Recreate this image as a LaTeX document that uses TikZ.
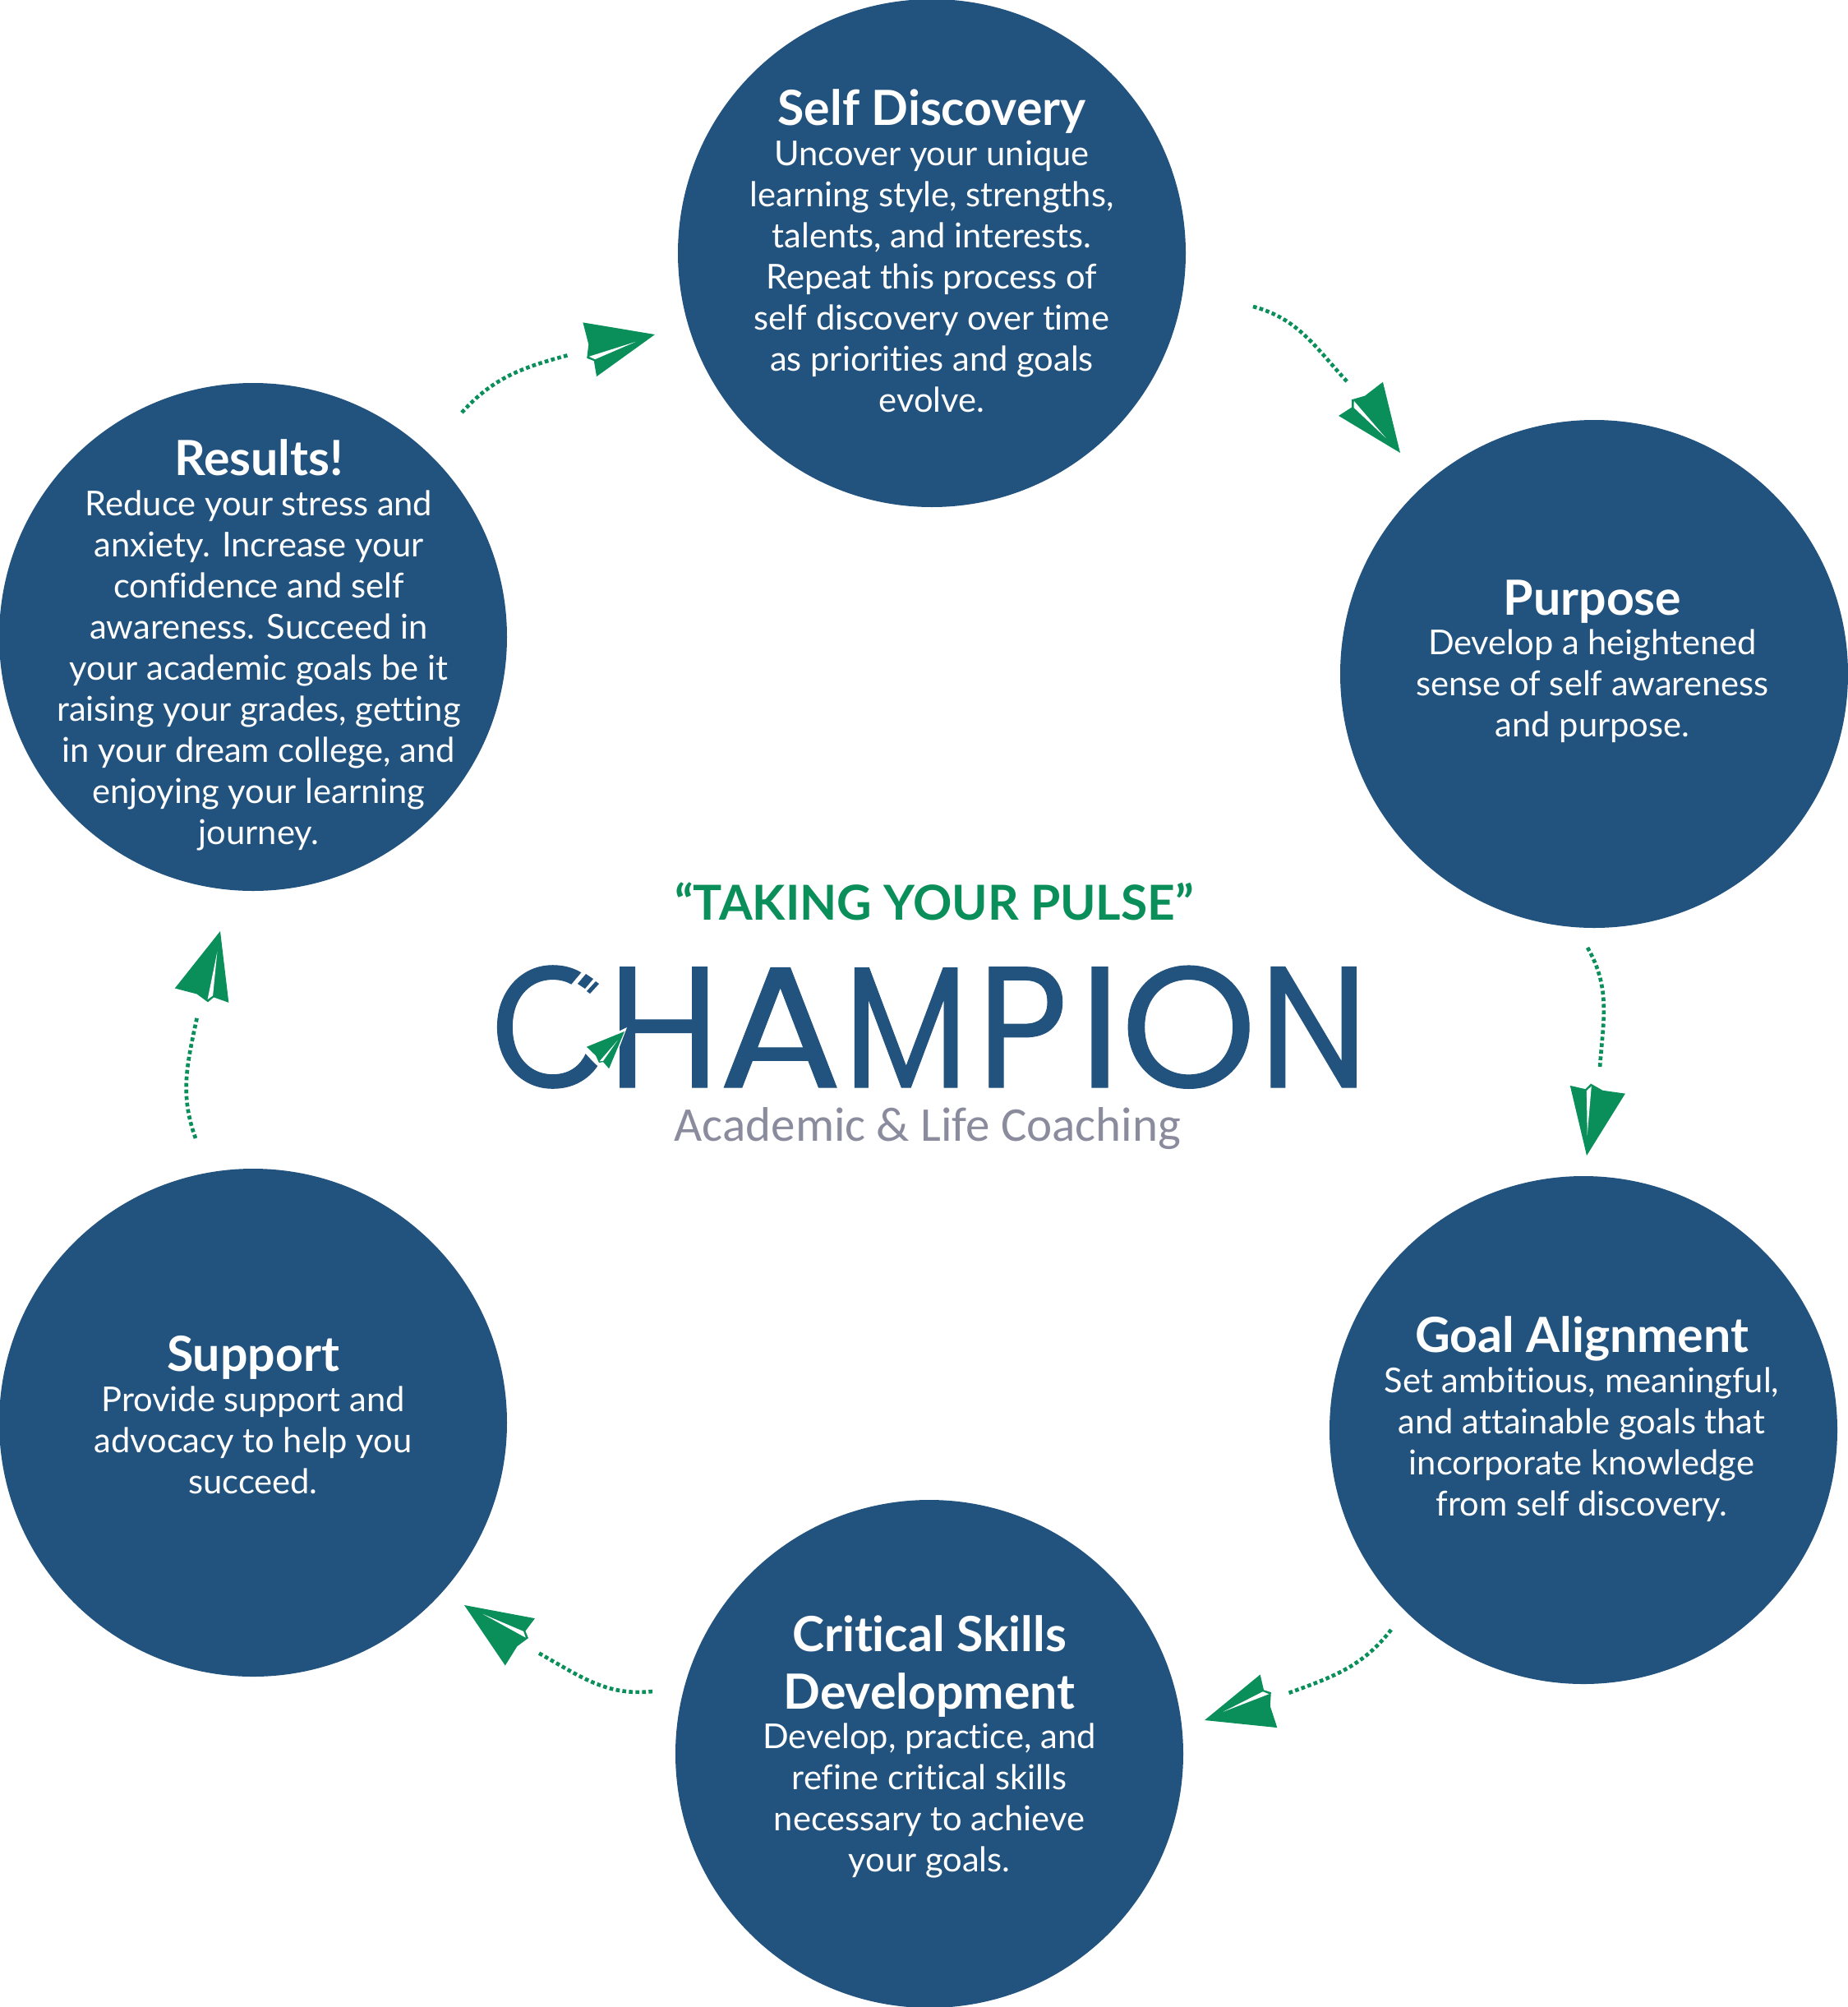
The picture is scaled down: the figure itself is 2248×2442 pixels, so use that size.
\documentclass[tikz,border=0pt]{standalone}
\usepackage{fontspec}
\usepackage{graphicx}
\setmainfont{Lato}[Ligatures=NoCommon]
\newfontfamily\logofont{Poppins}[FakeBold=0.5]
\newfontfamily\handfont{Carlito}
\newcommand{\logoletter}[3]{\makebox[0pt]{\scalebox{#1}[1]{#2}}\kern#3pt}
\definecolor{champblue}{HTML}{22537F}
\definecolor{champgreen}{HTML}{0B8F5A}
\definecolor{champgray}{HTML}{8A8C9E}
\tikzset{
	stage/.style={circle, fill=champblue, inner sep=0pt, minimum size=185.4pt},
	stagetitle/.style={anchor=north, inner sep=0pt, align=center, text=white,
		font=\fontsize{17.7}{21}\bfseries\selectfont, execute at begin node=\strut},
	stagebody/.style={anchor=north, inner sep=0pt, align=center, text=white,
		font=\fontsize{12.5}{15}\selectfont, execute at begin node=\strut},
	flightpath/.style={champgreen, line width=1.4pt, dash pattern=on 1.4pt off 1pt},
	paperplane/.pic={
		\fill[champgreen] (0,0) -- (-81.8,-34.5) -- (-81.3,-6.9) -- (-87.2,8.8) -- (-79.6,14.1) -- (-80.9,33.3) -- cycle;
		\fill[white] (-24.8,3.2) -- (-84.2,7.5) -- (-77.9,12.5) -- cycle;
	}
}
\begin{document}
\begin{tikzpicture}[x=0.3pt, y=-0.3pt]
	\useasboundingbox (0,0) rectangle (2248,2442);

	% circles
	\node[stage] (self) at (1134,308) {};
	\node[stage] (purpose) at (1940,820) {};
	\node[stage] (goal) at (1927,1740) {};
	\node[stage] (skills) at (1131,2134) {};
	\node[stage] (support) at (308,1731) {};
	\node[stage] (results) at (308,775) {};

	% circle texts
	\node[stagetitle] (selftitle) at (1134,103) {Self Discovery};
	\node[stagebody] (selfbody) at (1134,170) {Uncover your unique\\learning style, strengths,\\talents, and interests.\\Repeat this process of\\self discovery over time\\as priorities and goals\\evolve.};
	\node[stagetitle] (purposetitle) at (1938,699) {Purpose};
	\node[stagebody] (purposebody) at (1938,765) {Develop a heightened\\sense of self awareness\\and purpose.};
	\node[stagetitle] (goaltitle) at (1925,1596) {Goal Alignment};
	\node[stagebody] (goalbody) at (1925,1663) {Set ambitious, meaningful,\\and attainable goals that\\incorporate knowledge\\from self discovery.};
	\node[stagetitle] (skillstitle) at (1131,1965) {Critical Skills\\Development};
	\node[stagebody] (skillsbody) at (1131,2096) {Develop, practice, and\\refine critical skills\\necessary to achieve\\your goals.};
	\node[stagetitle] (supporttitle) at (308,1619) {Support};
	\node[stagebody] (supportbody) at (308,1686) {Provide support and\\advocacy to help you\\succeed.};
	\node[stagetitle] (resultstitle) at (315,529) {Results!};
	\node[stagebody] (resultsbody) at (315,596) {Reduce your stress and\\anxiety. Increase your\\confidence and self\\awareness. Succeed in\\your academic goals be it\\raising your grades, getting\\in your dream college, and\\enjoying your learning\\journey.};

	% center logo
	\node[anchor=base, inner sep=0pt, text=champgreen, font=\fontsize{17.6}{20}\bfseries\selectfont] (pulse) at (1137,1119) {“TAKING YOUR PULSE”};
	\node[anchor=base west, inner sep=0pt, text=champblue, font=\fontsize{63}{63}\logofont\selectfont] (champion) at (671,1323) {\logoletter{.92}{C}{40.8}\logoletter{.94}{H}{42.6}\logoletter{1.07}{A}{45.9}\logoletter{.84}{M}{42.5}\logoletter{.91}{P}{28.3}\logoletter{1}{I}{32.4}\logoletter{1}{O}{45.6}\logoletter{.9}{N}{0}};
	\node[anchor=base, inner sep=0pt, text=champgray, font=\fontsize{17.7}{20}\handfont\selectfont] (coaching) at (1129,1388) {Academic \& Life Coaching};

	% details of the C
	\fill[white] (722,1166) -- (745,1166) -- (745,1240) -- (660,1240) -- cycle;
	\fill[champblue] (713,1185) -- (722,1191) -- (712,1203) -- (703,1197) -- cycle;
	\fill[champblue] (725,1194) -- (729,1197) -- (718,1209) -- (714,1206) -- cycle;
	\fill[white] (763,1250) -- (708,1277) -- (722,1292) -- (737,1306) -- (744,1300) -- cycle;
	\pic[rotate=45, scale=0.56] at (760,1255) {paperplane};

	% paths and planes
	\coordinate (resultsout) at (562,502);
	\coordinate (selfin) at (692,432);
	\coordinate (selfout) at (1525,373);
	\coordinate (purposein) at (1640,465);
	\coordinate (purposeout) at (1932,1153);
	\coordinate (goalin) at (1947,1299);
	\coordinate (goalout) at (1693,1983);
	\coordinate (skillsin) at (1568,2060);
	\coordinate (skillsout) at (794,2058);
	\coordinate (supportin) at (655,2011);
	\coordinate (supportout) at (238,1385);
	\coordinate (resultsin) at (240,1237);
	\path (resultsout) edge[flightpath, out=48, in=195] (selfin)
		(selfout) edge[flightpath, out=-15, in=133] (purposein)
		(purposeout) edge[flightpath, out=-60, in=86] (goalin)
		(goalout) edge[flightpath, out=232, in=20] (skillsin)
		(skillsout) edge[flightpath, out=186, in=331] (supportin)
		(supportout) edge[flightpath, out=110, in=258] (resultsin);
	\pic[rotate=13.4] at (797,407) {paperplane};
	\pic[rotate=-53.4] at (1704,551) {paperplane};
	\pic[rotate=-99] at (1931,1406) {paperplane};
	\pic[rotate=197] at (1466,2093) {paperplane};
	\pic[rotate=147] at (565,1953) {paperplane};
	\pic[rotate=74.4] at (268,1133) {paperplane};
\end{tikzpicture}
\end{document}
